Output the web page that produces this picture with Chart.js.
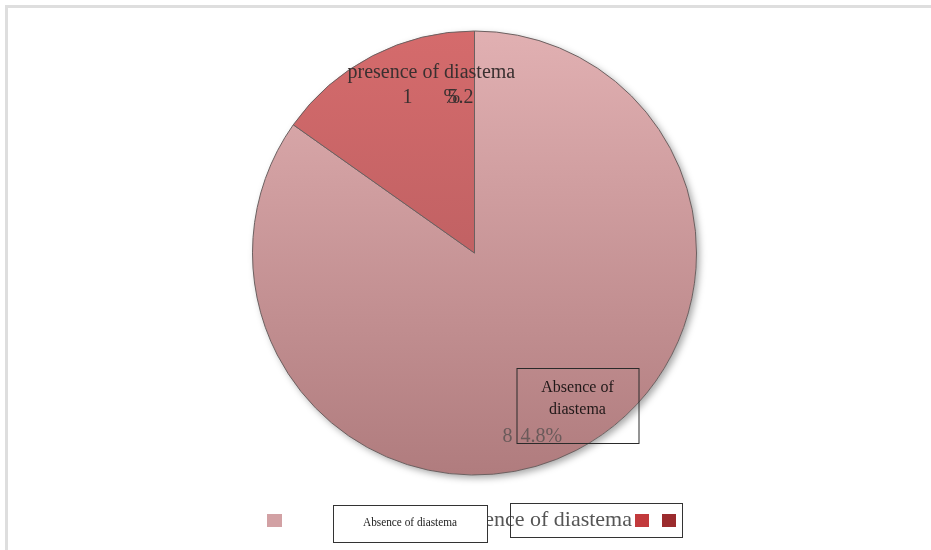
<!DOCTYPE html>
<html><head><meta charset="utf-8">
<script src="https://cdn.jsdelivr.net/npm/chart.js@4"></script>
<style>
html,body{margin:0;padding:0;background:#fff;}
#wrap{position:relative;width:931px;height:550px;overflow:hidden;background:#fff;}
#frame{position:absolute;left:5px;top:5px;width:1000px;height:1000px;border-left:3px solid #dedede;border-top:3px solid #dedede;}
canvas{position:absolute;left:0;top:0;}
</style></head>
<body>
<div id="wrap"><div id="frame"></div><canvas id="c" width="931" height="550"></canvas></div>
<script>
const categories = ['Absence of diastema', 'presence of diastema'];
const values = [84.8, 15.2];
const valueLabels = ['84.8%', '15.2%'];
const sliceTop = ['#e1b0b2', '#d56b6c'];
const sliceBottom = ['#b07c7e', '#ad585b'];
const legendSwatches = ['#d2a1a4', '#c23a3c', '#9b2b2d'];

const SERIF = '"Liberation Serif", "Times New Roman", serif';

function grad(ctx) {
  const chart = ctx.chart;
  const ca = chart.chartArea;
  if (!ca) return sliceTop[ctx.dataIndex];
  const g = chart.ctx.createLinearGradient(0, ca.top, 0, ca.bottom);
  g.addColorStop(0, sliceTop[ctx.dataIndex]);
  g.addColorStop(1, sliceBottom[ctx.dataIndex]);
  return g;
}

const shadowPlugin = {
  id: 'shadow',
  beforeDatasetsDraw(chart) {
    const arc = chart.getDatasetMeta(0).data[0];
    if (!arc) return;
    const c = chart.ctx;
    c.save();
    c.shadowColor = 'rgba(0,0,0,0.35)';
    c.shadowBlur = 7;
    c.shadowOffsetX = 3;
    c.shadowOffsetY = 3;
    c.fillStyle = '#ffffff';
    c.beginPath();
    c.arc(arc.x, arc.y, arc.outerRadius, 0, Math.PI * 2);
    c.fill();
    c.restore();
  }
};

const labelPlugin = {
  id: 'labels',
  afterDraw(chart) {
    const arc = chart.getDatasetMeta(0).data[0];
    const cx = arc.x, cy = arc.y;
    const c = chart.ctx;
    c.save();
    c.textBaseline = 'middle';
    c.textAlign = 'left';
    // presence label (garbled as in reference)
    c.fillStyle = '#3a3030';
    c.font = '20px ' + SERIF;
    c.fillText(categories[1], cx - 127, cy - 180);
    c.fillText('1', cx - 72, cy - 155);
    c.fillText('%', cx - 31, cy - 155);
    c.fillText('5', cx - 27, cy - 155);
    c.fillText('.2', cx - 16, cy - 155);

    // absence label box
    c.strokeStyle = '#2a2a2a';
    c.lineWidth = 1;
    c.strokeRect(cx + 42.5, cy + 115.5, 122, 75);
    c.fillStyle = '#201818';
    c.textAlign = 'center';
    c.font = '16px ' + SERIF;
    c.fillText('Absence of', cx + 103, cy + 135);
    c.fillText('diastema', cx + 103, cy + 157);
    c.textAlign = 'left';
    c.fillStyle = '#6a5a5a';
    c.font = '20px ' + SERIF;
    c.fillText('8', cx + 28, cy + 184);
    c.fillText('4.8%', cx + 46, cy + 184);

    // legend
    c.fillStyle = legendSwatches[0];
    c.fillRect(267, 514, 15, 13);
    c.fillStyle = '#555';
    c.font = '22px ' + SERIF;
    c.textAlign = 'right';
    c.fillText(categories[1], 632, 520);
    c.fillStyle = '#fff';
    c.fillRect(333, 505, 154, 38);
    c.strokeStyle = '#333';
    c.strokeRect(333.5, 505.5, 154, 37);
    c.fillStyle = '#1a1a1a';
    c.textAlign = 'center';
    c.font = '12px ' + SERIF;
    c.fillText(categories[0], 410, 523, 94);
    c.strokeRect(510.5, 503.5, 172, 34);
    c.fillStyle = legendSwatches[1];
    c.fillRect(635, 514, 14, 13);
    c.fillStyle = legendSwatches[2];
    c.fillRect(662, 514, 14, 13);
    c.restore();
  }
};

new Chart(document.getElementById('c'), {
  type: 'pie',
  data: {
    labels: categories,
    datasets: [{
      data: values,
      backgroundColor: grad,
      borderColor: '#6b6060',
      borderWidth: 1,
      radius: 222
    }]
  },
  options: {
    responsive: false,
    animation: false,
    layout: { padding: { top: 31, bottom: 75, left: 18, right: 0 } },
    plugins: { legend: { display: false }, tooltip: { enabled: false } }
  },
  plugins: [shadowPlugin, labelPlugin]
});
</script>
</body></html>
